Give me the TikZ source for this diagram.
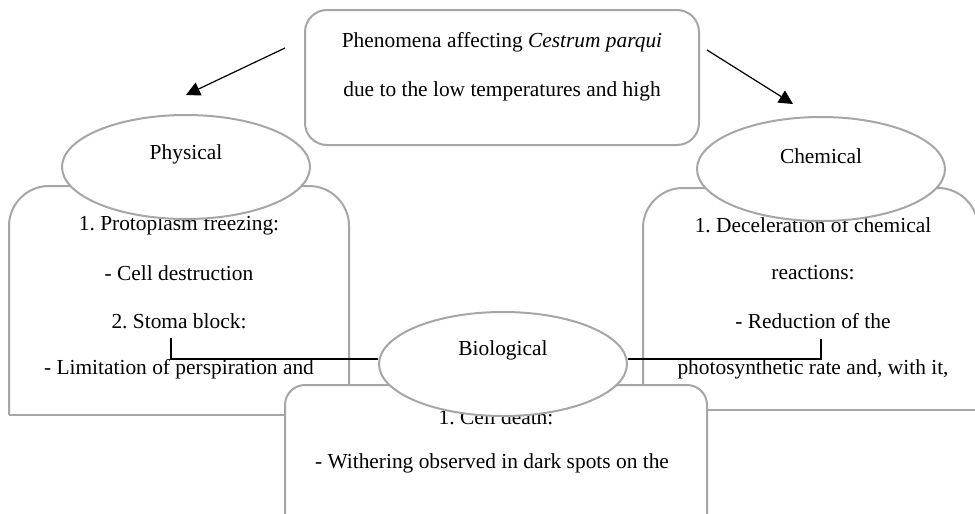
\documentclass[tikz,border=0pt]{standalone}
\usepackage{fontspec}
\setmainfont{Liberation Serif}
\usetikzlibrary{shapes.geometric,arrows.meta}
\frenchspacing

\begin{document}
\begin{tikzpicture}[x=0.5pt,y=-0.5pt,>={Triangle[length=7pt,width=7pt]},
                   frame/.style={draw=black!35,line width=1pt,fill=white},
                   oval/.style={ellipse,draw=black!35,line width=1pt,fill=white,
                     minimum width=124pt,minimum height=52pt,inner sep=0pt},
                   link/.style={line width=0.6pt},
                   every node/.style={font=\fontsize{10.7}{12.8}\selectfont}]
\useasboundingbox (0,0) rectangle (975,514);
\clip (0,0) rectangle (975,514);
% boxes
\draw[frame,rounded corners=20pt] (9,415) -- (9,186) -- (349,186) -- (349,415);
\draw[frame] (9,415) -- (349,415);
\draw[frame,rounded corners=20pt] (643,410) -- (643,188) -- (978,188) -- (978,410);
\draw[frame] (643,410) -- (978,410);
\draw[frame,rounded corners=10pt] (285,530) -- (285,385) -- (707,385) -- (707,530);
\draw[frame,rounded corners=11pt] (305,10) rectangle (699,145);
% texts
\node (title1) at (502,42) {Phenomena affecting \textit{Cestrum parqui}};
\node (title2) at (502,91) {due to the low temperatures and high};
\foreach \t [count=\i] in {1. Protoplasm freezing:,- Cell destruction,2. Stoma block:,- Limitation of perspiration and}{
  \node (pl\i) at (179,177+48*\i) {\t};
}
\foreach \t [count=\i] in {1. Deceleration of chemical,reactions:,- Reduction of the,{photosynthetic rate and, with it,}}{
  \node (cl\i) at (813,177+48*\i) {\t};
}
\node (bl1) at (496,417) {1. Cell death:};
\node (bl2) at (492,463) {- Withering observed in dark spots on the};
% ellipses
\node[oval,label={[yshift=6.5pt]center:Physical}] (physical) at (186,167) {};
\node[oval,label={[yshift=6.5pt]center:Chemical}] (chemical) at (821,169) {};
\node[oval,label={[yshift=7pt]center:Biological}] (biological) at (503,364) {};
% arrows and links
\coordinate (srcL) at (285,48);
\coordinate (tipL) at (186,95);
\coordinate (srcR) at (707,50);
\coordinate (tipR) at (793,104);
\draw[->,link] (srcL) -- (tipL);
\draw[->,link] (srcR) -- (tipR);
\coordinate (stoma) at (171,338);
\coordinate (photo) at (821,339);
\draw[link] (stoma) |- ([yshift=2.5pt]biological.west);
\draw[link] (photo) |- ([yshift=2.5pt]biological.east);
\end{tikzpicture}
\end{document}
